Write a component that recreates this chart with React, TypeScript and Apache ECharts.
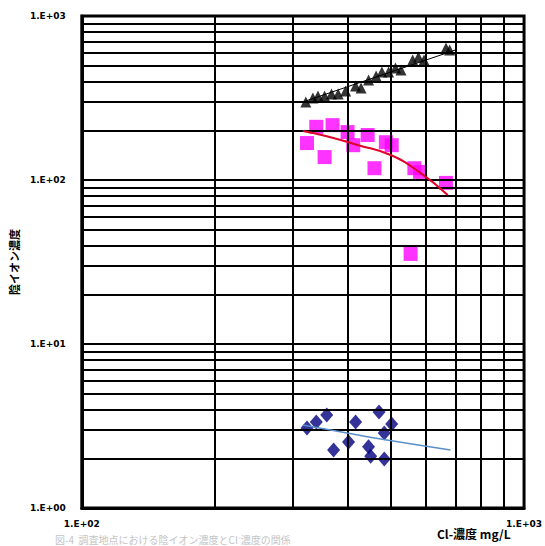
import React, { useEffect, useRef } from "react";
import * as echarts from "echarts";

// Cl- concentration (mg/L) vs anion concentration
const triangleData: number[][] = [
  [321, 299], [333, 316], [342, 325], [354, 325], [367, 335], [380, 335],
  [395, 349], [416, 374], [428, 364], [445, 407], [463, 431], [477, 456],
  [494, 456], [512, 482], [527, 469], [560, 539], [577, 562], [594, 539],
  [666, 638], [679, 620],
];
const squareData: number[][] = [
  [323, 168], [339, 211], [369, 216], [354, 138], [399, 196], [411, 163],
  [443, 188], [459, 118], [487, 170], [502, 163], [565, 118], [582, 112],
  [666, 96], [554, 35.4],
];
const diamondData: number[][] = [
  [323, 3.07], [339, 3.35], [358, 3.69], [371, 2.26], [401, 2.53], [416, 3.35],
  [470, 3.85], [502, 3.25], [483, 2.87], [445, 2.36], [450, 2.07], [483, 1.99],
];
const triangleTrend: number[][] = [[316, 299], [699, 620]];
const squareTrend: number[][] = [
  [316, 199], [358, 185], [422, 163], [499, 142], [579, 112], [672, 81],
];
const diamondTrend: number[][] = [[316, 3.21], [376, 2.95], [459, 2.67], [682, 2.26]];

const multipliers = [2, 3, 4, 5, 6, 7, 8, 9];
const yDecades = [1, 10, 100];
const xDecades = [100];
const yMajor = [10, 100];

const yAxisName = "陰イオン濃度";
const xAxisName = "Cl-濃度 mg/L";
const caption = "図-4  調査地点における陰イオン濃度とCl⁻濃度の関係";

const fmt = (v: number) => {
  const e = Math.round(Math.log10(v));
  return "1.E+" + String(e).padStart(2, "0");
};

export default function App() {
  const ref = useRef<HTMLDivElement>(null);
  useEffect(() => {
    if (!ref.current) return;
    const chart = echarts.init(ref.current, undefined, { renderer: "svg" });
    const hLines: any[] = [];
    yDecades.forEach((d) => multipliers.forEach((m) => hLines.push({ yAxis: d * m })));
    yMajor.forEach((v) => hLines.push({ yAxis: v }));
    const vLines: any[] = [];
    xDecades.forEach((d) => multipliers.forEach((m) => vLines.push({ xAxis: d * m })));

    const labelStyle = {
      color: "#000",
      fontSize: 9,
      fontWeight: "bold" as const,
      fontFamily: "DejaVu Sans, sans-serif",
    };

    chart.setOption({
      animation: false,
      backgroundColor: "#fff",
      grid: {
        left: 63,
        right: 18,
        top: 16,
        bottom: 38,
        show: true,
        borderColor: "#000",
        borderWidth: 3,
        backgroundColor: "transparent",
      },
      xAxis: {
        type: "log",
        min: 100,
        max: 1000,
        logBase: 10,
        axisLine: { show: true, lineStyle: { color: "#000", width: 3 } },
        axisTick: { show: false },
        splitLine: { show: false },
        axisLabel: { ...labelStyle, margin: 11, formatter: fmt, showMinLabel: true, showMaxLabel: true },
      },
      yAxis: {
        type: "log",
        min: 1,
        max: 1000,
        logBase: 10,
        name: yAxisName,
        nameLocation: "middle",
        nameGap: 44,
        nameRotate: 90,
        nameTextStyle: { ...labelStyle, fontSize: 11, fontFamily: "'Noto Sans CJK JP', sans-serif" },
        axisLine: { show: true, lineStyle: { color: "#000", width: 3 } },
        axisTick: { show: false },
        splitLine: { show: false },
        axisLabel: { ...labelStyle, margin: 16, formatter: fmt },
      },
      series: [
        {
          type: "line",
          data: [],
          silent: true,
          markLine: {
            silent: true,
            symbol: "none",
            label: { show: false },
            lineStyle: { color: "#000", width: 2, type: "solid" },
            data: [...hLines, ...vLines],
          },
        },
        {
          type: "line",
          data: triangleTrend,
          showSymbol: false,
          lineStyle: { color: "#000", width: 1 },
          z: 3,
        },
        {
          type: "scatter",
          data: triangleData,
          symbol: "triangle",
          symbolSize: 11,
          itemStyle: { color: "#000" },
          z: 4,
        },
        {
          type: "scatter",
          data: squareData,
          symbol: "rect",
          symbolSize: 14,
          itemStyle: { color: "#ff00ff" },
          z: 4,
        },
        {
          type: "line",
          data: squareTrend,
          showSymbol: false,
          smooth: true,
          lineStyle: { color: "#e0002a", width: 2 },
          z: 5,
        },
        {
          type: "scatter",
          data: diamondData,
          symbol: "diamond",
          symbolSize: [13, 15],
          itemStyle: { color: "#000080" },
          z: 4,
        },
        {
          type: "line",
          data: diamondTrend,
          showSymbol: false,
          smooth: true,
          lineStyle: { color: "#5b8fc9", width: 1.5 },
          z: 5,
        },
      ],
      graphic: [
        {
          type: "text",
          left: 437,
          top: 527,
          style: { text: xAxisName, fill: "#000", font: "bold 12px 'Noto Sans CJK JP', sans-serif" },
        },
        {
          type: "text",
          left: 55,
          top: 534,
          style: { text: caption, fill: "#c4c4c4", font: "10px 'Noto Sans CJK JP', sans-serif" },
        },
      ],
    });
    return () => chart.dispose();
  }, []);
  return (
    <div
      ref={ref}
      style={{ position: "fixed", left: 0, top: 0, width: 545, height: 546, background: "#fff" }}
    />
  );
}
